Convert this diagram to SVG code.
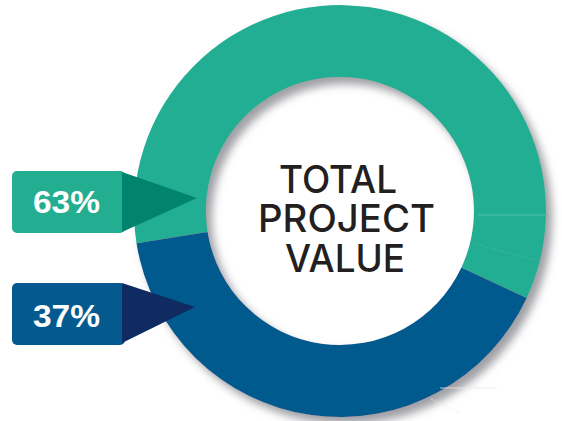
<svg xmlns="http://www.w3.org/2000/svg" width="562" height="421" viewBox="0 0 562 421">
  <defs>
    <filter id="shadow" x="-10%" y="-10%" width="125%" height="125%">
      <feDropShadow dx="6" dy="7" stdDeviation="4" flood-color="#8e9095" flood-opacity="0.85"/>
    </filter>
    <style>
      .teal { fill: #23ae92; }
      .blue { fill: #045a8e; }
      .teal-dark { fill: #00846f; }
      .blue-dark { fill: #102b61; }
      .pct { font-family: "Liberation Sans", Arial, sans-serif; font-weight: bold; font-size: 31px; fill: #ffffff; text-anchor: middle; }
      .title { font-family: Inter, "Liberation Sans", sans-serif; font-weight: 500; font-size: 38px; fill: #231f20; text-anchor: middle; }
    </style>
  </defs>
  <rect width="562" height="421" fill="#ffffff"/>

  <g id="ring" filter="url(#shadow)">
    <path id="segment-63" class="teal" d="M 136.5 243.2 A 206 206 0 1 1 526.7 298.1 L 461.4 267.6 A 134 134 0 1 0 207.6 232.0 Z"/>
    <path id="segment-37" class="blue" d="M 526.7 298.1 A 206 206 0 0 1 136.5 243.2 L 207.6 232.0 A 134 134 0 0 0 461.4 267.6 Z"/>
  </g>
  <g id="artifacts" fill="none" stroke-width="0.8">
    <line x1="478" y1="215" x2="548" y2="215" stroke="#5cc4ae"/>
    <line x1="475" y1="244" x2="543" y2="262" stroke="#5cc4ae" stroke-dasharray="2 2" opacity="0.7"/>
    <line x1="440" y1="388" x2="497" y2="388" stroke="#e6e6e8"/>
    <line x1="431" y1="399" x2="460" y2="413" stroke="#e6e6e8" stroke-dasharray="2 2"/>
  </g>

  <g id="center-label">
    <text class="title" x="338" y="193" textLength="118" lengthAdjust="spacingAndGlyphs">TOTAL</text>
    <text class="title" x="346.5" y="232" textLength="177" lengthAdjust="spacingAndGlyphs">PROJECT</text>
    <text class="title" x="345" y="272" textLength="120" lengthAdjust="spacingAndGlyphs">VALUE</text>
  </g>

  <g id="label-63">
    <rect class="teal" x="12" y="171" width="113" height="62" rx="5"/>
    <polygon class="teal-dark" points="122,172 197,198 122,232"/>
    <text class="pct" x="66.5" y="213" textLength="67" lengthAdjust="spacingAndGlyphs">63%</text>
  </g>

  <g id="label-37">
    <rect class="blue" x="12" y="283" width="113" height="62" rx="5"/>
    <polygon class="blue-dark" points="122,283 195,307 122,343"/>
    <text class="pct" x="66.5" y="327" textLength="67" lengthAdjust="spacingAndGlyphs">37%</text>
  </g>
</svg>
